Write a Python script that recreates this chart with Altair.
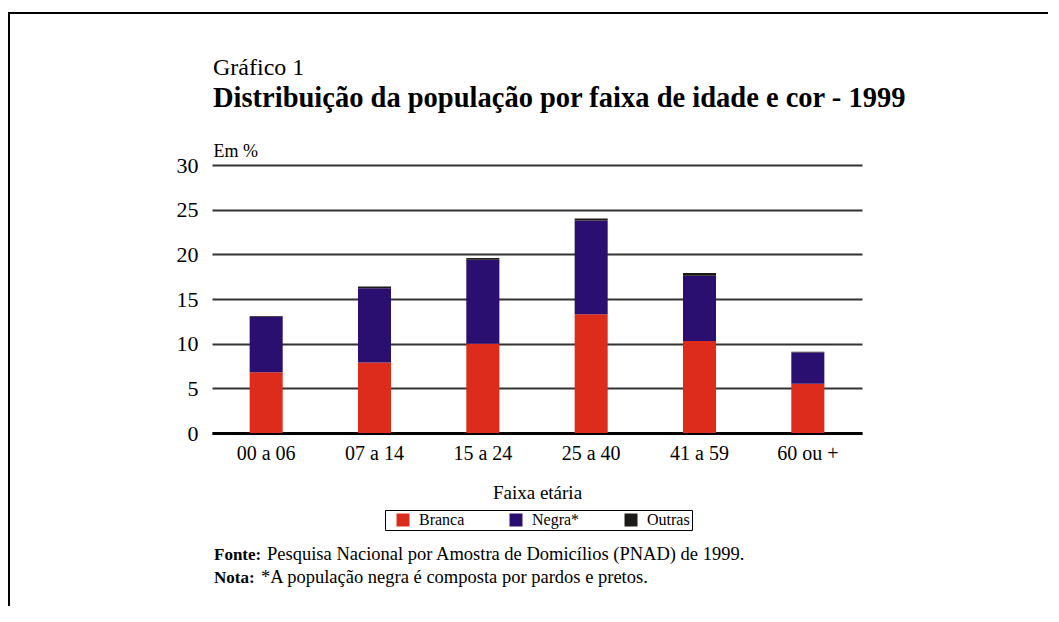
import altair as alt
import pandas as pd

categories = ["00 a 06", "07 a 14", "15 a 24", "25 a 40", "41 a 59", "60 ou +"]
branca = [6.8, 7.9, 10.0, 13.3, 10.3, 5.5]
negra = [6.2, 8.3, 9.4, 10.5, 7.3, 3.5]
outras = [0.1, 0.2, 0.2, 0.2, 0.3, 0.1]
series = ["Branca", "Negra*", "Outras"]
colors = ["#dd2c1c", "#2b0f70", "#1e1a18"]
y_ticks = [0, 5, 10, 15, 20, 25, 30]

rows = []
for i, c in enumerate(categories):
    for k, (s, vals) in enumerate(zip(series, [branca, negra, outras])):
        rows.append({"faixa": c, "cor": s, "valor": vals[i], "ordem": k})
df = pd.DataFrame(rows)

FONT = "Liberation Serif"

bars = alt.Chart(df).mark_bar().encode(
    x=alt.X(
        "faixa:N", sort=categories,
        scale=alt.Scale(paddingInner=0.695, paddingOuter=0.3475),
        axis=alt.Axis(
            title="Faixa etária", labelAngle=0, labelFont=FONT, labelFontSize=20,
            labelColor="black", labelPadding=10, ticks=False,
            domainColor="black", domainWidth=3,
            titleFont=FONT, titleFontSize=19, titleFontWeight="normal",
            titleColor="black", titlePadding=20,
        ),
    ),
    y=alt.Y(
        "valor:Q", stack="zero",
        scale=alt.Scale(domain=[0, 30], nice=False),
        axis=alt.Axis(
            values=y_ticks, title="Em %", titleAngle=0, titleX=1, titleY=-9,
            titleAlign="left", titleBaseline="alphabetic", titleFont=FONT,
            titleFontSize=18, titleFontWeight="normal", titleColor="black",
            domain=False, ticks=False, gridColor="#333333", gridWidth=1.8,
            labelFont=FONT, labelFontSize=22, labelColor="black", labelPadding=14,
        ),
    ),
    color=alt.Color(
        "cor:N", scale=alt.Scale(domain=series, range=colors),
        legend=alt.Legend(
            orient="none", legendX=173, legendY=345, direction="horizontal",
            title=None, symbolType="square", symbolSize=169, symbolStrokeWidth=0,
            symbolOffset=8,
            labelFont=FONT, labelFontSize=16, labelColor="black",
            strokeColor="black", fillColor="white", padding=2,
            columnPadding=35, labelOffset=8,
        ),
    ),
    order=alt.Order("ordem:Q"),
)


def txt(s, x, y, size, weight="normal"):
    return alt.Chart(pd.DataFrame({"t": [s]})).mark_text(
        align="left", baseline="alphabetic", font=FONT, fontSize=size,
        fontWeight=weight, color="black",
    ).encode(x=alt.value(x), y=alt.value(y), text="t:N")


one = pd.DataFrame({"a": [0]})
frame_top = alt.Chart(one).mark_rule(color="black", strokeWidth=2).encode(
    x=alt.value(-204), x2=alt.value(840), y=alt.value(-152))
frame_left = alt.Chart(one).mark_rule(color="black", strokeWidth=2).encode(
    x=alt.value(-203), y=alt.value(-152), y2=alt.value(460))

chart = alt.layer(
    frame_top, frame_left, bars,
    txt("Gráfico 1", 1, -90, 24),
    txt("Distribuição da população por faixa de idade e cor - 1999", 1, -58, 28.5, "bold"),
    txt("Fonte:", 2, 395, 17, "bold"),
    txt("Pesquisa Nacional por Amostra de Domicílios (PNAD) de 1999.", 55, 395, 18.5),
    txt("Nota:", 2, 418, 17, "bold"),
    txt("*A população negra é composta por pardos e pretos.", 49, 418, 18.5),
).properties(
    width=650, height=268,
    padding={"left": 204, "top": 157, "right": 186, "bottom": 173},
    autosize=alt.AutoSizeParams(type="none"),
).configure_view(stroke=None)

chart.save("out.html", embed_options={"renderer": "svg", "actions": False})
